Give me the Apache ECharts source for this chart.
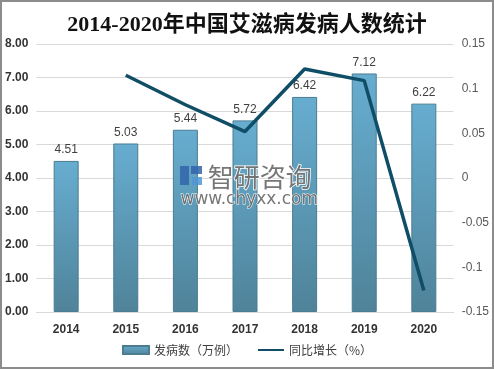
<!DOCTYPE html>
<html><head><meta charset="utf-8">
<script src="https://cdn.jsdelivr.net/npm/echarts@6/dist/echarts.min.js"></script>
<style>html,body{margin:0;padding:0;background:#fff}#c{width:494px;height:369px;box-sizing:border-box;border:2px solid #8c8c8c}</style>
</head><body><div id="c"></div>
<script>
var categories = ['2014','2015','2016','2017','2018','2019','2020'];
var cases = [4.51, 5.03, 5.44, 5.72, 6.42, 7.12, 6.22];
var growth = [null, 0.115, 0.082, 0.052, 0.122, 0.109, -0.126];
var chart = echarts.init(document.getElementById('c'));
var wm = 'rgba(95,95,95,0.85)';
chart.setOption({
  animation:false,
  title:{text:'2014-2020年中国艾滋病发病人数统计',left:'center',top:7,
    textStyle:{fontFamily:'Liberation Serif, "Noto Sans CJK SC"',fontSize:22,fontWeight:'bold',color:'#111'}},
  grid:{left:33,right:37,top:42,bottom:55},
  legend:{bottom:6,left:'center',itemGap:20,itemWidth:26,itemHeight:8,
    textStyle:{fontSize:12,color:'#404040',fontFamily:'"Noto Sans CJK SC"'},
    data:[{name:'发病数（万例）',icon:'rect'},
          {name:'同比增长（%）',icon:'path://M0,0 L0.01,0 L0,0.01 Z M0,3 L40,3 L40,6 L0,6 Z M0,9 L0.01,9 L0,8.99 Z'}]},
  graphic:[
    {type:'rect',left:178,top:164,shape:{width:9,height:19},style:{fill:'rgba(50,100,170,0.85)'},z:50},
    {type:'rect',left:189,top:164,shape:{width:11,height:8},style:{fill:'rgba(50,100,170,0.85)'},z:50},
    {type:'rect',left:190,top:175,shape:{width:10,height:8},style:{fill:'rgba(80,150,210,0.85)'},z:50},
    {type:'text',left:205,top:161,z:50,style:{text:'智研咨询',fontSize:26,fill:wm,stroke:'#fff',lineWidth:1.5,fontFamily:'"Noto Sans CJK SC"'}},
    {type:'text',left:178,top:189,z:50,style:{text:'www.chyxx.com',fontSize:17,fill:wm,stroke:'#fff',lineWidth:1,fontFamily:'DejaVu Sans'}}],
  xAxis:{type:'category',data:categories,axisTick:{show:false},
    axisLine:{lineStyle:{color:'#d9d9d9'}},
    axisLabel:{fontWeight:'bold',color:'#333',fontSize:12,margin:12}},
  yAxis:[{type:'value',min:0,max:8,interval:1,
    axisLabel:{formatter:function(v){return v.toFixed(2);},fontWeight:'bold',color:'#333',fontSize:12},
    splitLine:{lineStyle:{color:'#d9d9d9'}}},
    {type:'value',min:-0.15,max:0.15,interval:0.05,
    axisLabel:{formatter:function(v){return String(Math.round(v*100)/100);},color:'#595959',fontSize:12},
    splitLine:{show:false}}],
  series:[{name:'发病数（万例）',type:'bar',data:cases,barWidth:25,
    itemStyle:{borderColor:'#4a7d92',borderWidth:1,
      color:new echarts.graphic.LinearGradient(0,0,0,1,[{offset:0,color:'#67add0'},{offset:1,color:'#4f8399'}])},
    label:{show:true,position:'top',color:'#404040',fontSize:12,formatter:function(p){return p.value.toFixed(2);}}},
    {name:'同比增长（%）',type:'line',yAxisIndex:1,data:growth,symbol:'none',
      lineStyle:{color:'#0f4e66',width:3.5},itemStyle:{color:'#0f4e66'}}]
});
</script></body></html>
